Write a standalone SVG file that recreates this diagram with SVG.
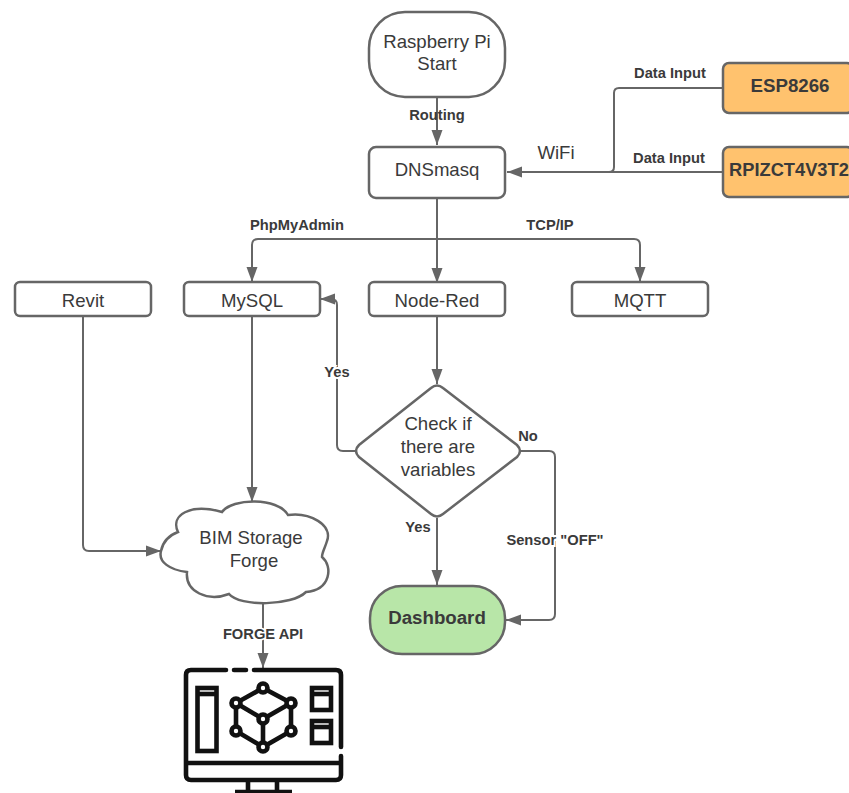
<svg xmlns="http://www.w3.org/2000/svg" width="849" height="793" viewBox="0 0 849 793">
<style>
text{font-family:"Liberation Sans",Arial,sans-serif;fill:#3a3a3a;text-anchor:middle}
.t{font-size:18.6px}
.b{font-size:18.7px;font-weight:bold}
.l{font-size:14.7px;font-weight:bold}
.n{fill:#fff;stroke:#666;stroke-width:2.5}
.c{fill:none;stroke:#666;stroke-width:2;marker-end:url(#a)}
.p{fill:none;stroke:#666;stroke-width:2}
.i{fill:none;stroke:#111;stroke-width:4.600}
.d{fill:#fff;stroke:#111;stroke-width:4.600}
</style>
<defs><marker id="a" markerUnits="userSpaceOnUse" markerWidth="16" markerHeight="12" refX="15" refY="6" orient="auto"><path d="M0 0.5L15 6L0 11.5Z" fill="#666"/></marker></defs>
<rect width="849" height="793" fill="#fff"/>
<g id="connectors">
<path class="c" d="M437 97V145"/>
<path class="c" d="M722 172H507"/>
<path class="p" d="M722 88H619Q614 88 614 93V167Q614 172 609 172"/>
<path class="c" d="M437 198V283"/>
<path class="c" d="M437 239H258Q252 239 252 245V282"/>
<path class="c" d="M437 239H634Q640 239 640 245V282"/>
<path class="c" d="M437 316V384"/>
<path class="c" d="M355 451H343Q337 451 337 445V305Q337 299 331 299H320"/>
<path class="c" d="M521 451H549Q555 451 555 457V614Q555 620 549 620H506"/>
<path class="c" d="M437 518V585"/>
<path class="c" d="M252 316V502"/>
<path class="c" d="M83 316V545Q83 551 89 551H161"/>
<path class="c" d="M263 602V668"/>
</g>
<g id="start"><rect class="n" x="369" y="12" width="136" height="85" rx="36"/><text class="t" x="437" y="48">Raspberry Pi</text><text class="t" x="437" y="70">Start</text></g>
<g id="dnsmasq"><rect class="n" x="369" y="147" width="136" height="51" rx="7"/><text class="t" x="437" y="176">DNSmasq</text></g>
<g id="esp8266"><rect x="723" y="63" width="130" height="50" rx="6" fill="#ffc26e" stroke="#666" stroke-width="2.5"/><text class="b" x="790" y="92">ESP8266</text></g>
<g id="rpi"><rect x="723" y="147" width="130" height="50" rx="6" fill="#ffc26e" stroke="#666" stroke-width="2.5"/><text x="729" y="176" font-size="18.300" font-weight="bold" style="text-anchor:start">RPIZCT4V3T2</text></g>
<g id="revit"><rect class="n" x="15" y="282" width="136" height="34" rx="5"/><text class="t" x="83" y="307">Revit</text></g>
<g id="mysql"><rect class="n" x="184" y="282" width="136" height="34" rx="5"/><text class="t" x="252" y="307">MySQL</text></g>
<g id="nodered"><rect class="n" x="369" y="282" width="136" height="34" rx="5"/><text class="t" x="437" y="307">Node-Red</text></g>
<g id="mqtt"><rect class="n" x="572" y="282" width="136" height="34" rx="5"/><text class="t" x="640" y="307">MQTT</text></g>
<g id="check"><path class="n" d="M431 388Q437 383 443 388L517 445Q523 451 517 457L443 514Q437 519 431 514L359 457Q353 451 359 445Z"/><text class="t" x="438" y="430">Check if</text><text class="t" x="438" y="453">there are</text><text class="t" x="438" y="476">variables</text></g>
<g id="dashboard"><rect x="370" y="586" width="135" height="68" rx="32" fill="#b8e6a8" stroke="#666" stroke-width="2.5"/><text class="b" x="437" y="624">Dashboard</text></g>
<g id="cloud"><path class="n" d="M178 532C170 515 190 503 222 512C232 498 278 497 288 515C310 512 333 525 327 541C325 548 322 552 322 557C333 566 331 590 306 592C292 606 240 607 229 594C208 602 185 592 187 572C170 570 158 562 161 551C163 541 170 535 178 532Z"/><text class="t" x="251" y="544">BIM Storage</text><text class="t" x="254" y="567">Forge</text></g>
<g id="monitor">
<path class="i" stroke-linecap="round" d="M226 670H191Q186 670 186 675V775Q186 780 191 780H336Q341 780 341 775V756M341 747V675Q341 670 336 670H254M234 670H246"/>
<path class="i" d="M186 763H341M248 780V792M277 780V792M235 792H292"/>
<rect class="i" x="197.500" y="688" width="19" height="63"/><path class="i" stroke-width="3" d="M198 694H216"/>
<rect class="i" x="312" y="688" width="19" height="22"/><path class="i" stroke-width="3" d="M312 694H331"/>
<rect class="i" x="312" y="721" width="19" height="22"/><path class="i" stroke-width="3" d="M312 727H331"/>
<path class="i" d="M263 688L291 703V731L263 747L236 731V703ZM236 703L263 719L291 703M263 719V747"/>
<g class="d"><circle cx="263" cy="688" r="4.500"/><circle cx="291" cy="703" r="4.500"/><circle cx="291" cy="731" r="4.500"/><circle cx="263" cy="747" r="4.500"/><circle cx="236" cy="731" r="4.500"/><circle cx="236" cy="703" r="4.500"/><circle cx="263" cy="719" r="4.500"/></g>
</g>
<g id="labels">
<text class="l" x="437" y="120">Routing</text>
<text x="556" y="159" font-size="18.6">WiFi</text>
<text class="l" x="670" y="78">Data Input</text>
<text class="l" x="669" y="163">Data Input</text>
<text class="l" x="297" y="230">PhpMyAdmin</text>
<text class="l" x="550" y="230">TCP/IP</text>
<text class="l" x="337" y="377" style="paint-order:stroke;stroke:#fff;stroke-width:4">Yes</text>
<text class="l" x="528" y="441">No</text>
<text class="l" x="418" y="532">Yes</text>
<text class="l" x="555" y="545" style="paint-order:stroke;stroke:#fff;stroke-width:4">Sensor "OFF"</text>
<text class="l" x="263" y="639" style="paint-order:stroke;stroke:#fff;stroke-width:3">FORGE API</text>
</g>
</svg>
